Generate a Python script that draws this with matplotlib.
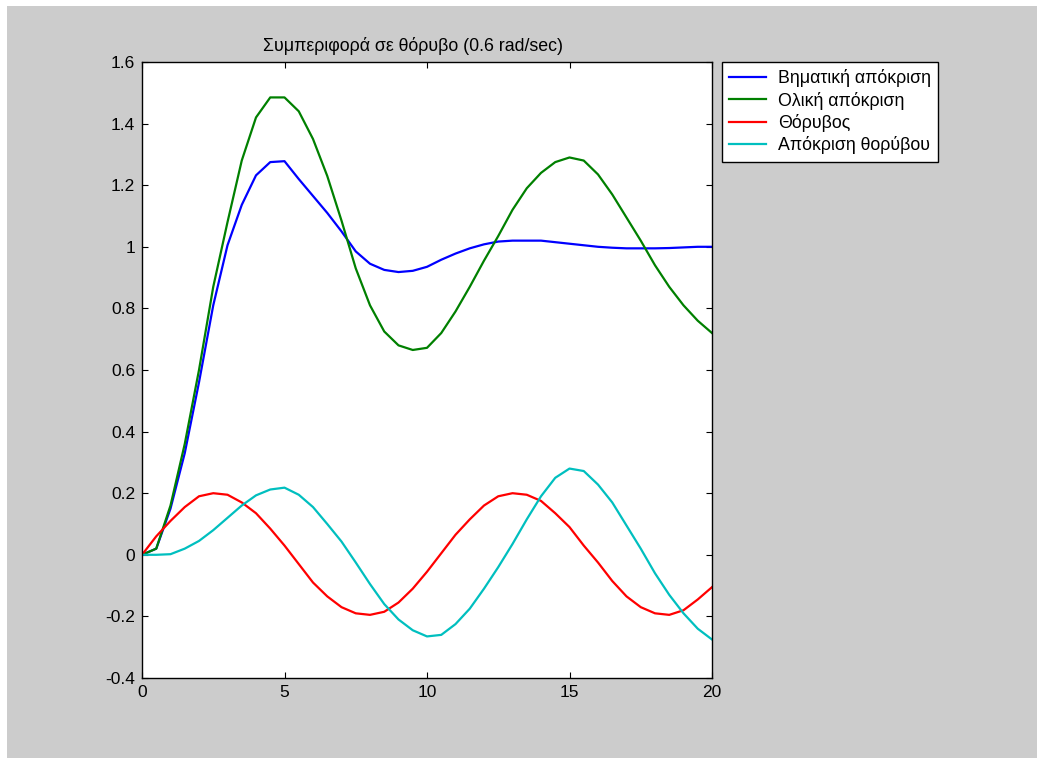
import numpy as np
import matplotlib
matplotlib.use("Agg")
import matplotlib.pyplot as plt
from matplotlib.patches import Rectangle

plt.rcParams['font.family'] = ['Liberation Sans', 'DejaVu Sans']

# time axis (sec)
t = np.arange(0, 20.5, 0.5)

# step response
step_resp = [0.0, 0.02, 0.15, 0.33, 0.56, 0.81, 1.005, 1.136, 1.232, 1.275,
             1.278, 1.22, 1.165, 1.11, 1.05, 0.985, 0.945, 0.925, 0.918, 0.922,
             0.935, 0.958, 0.978, 0.995, 1.008, 1.017, 1.02, 1.02, 1.02, 1.015,
             1.01, 1.005, 1.0, 0.997, 0.995, 0.995, 0.995, 0.996, 0.998, 1.0, 1.0]

# total response
total_resp = [0.0, 0.02, 0.16, 0.36, 0.60, 0.87, 1.08, 1.28, 1.42, 1.485,
              1.485, 1.44, 1.35, 1.23, 1.085, 0.93, 0.81, 0.725, 0.68, 0.665,
              0.672, 0.72, 0.79, 0.87, 0.955, 1.035, 1.12, 1.19, 1.24, 1.275,
              1.29, 1.28, 1.235, 1.17, 1.095, 1.02, 0.94, 0.87, 0.81, 0.76, 0.72]

# noise input
noise = [0.0, 0.06, 0.11, 0.155, 0.19, 0.2, 0.195, 0.17, 0.135, 0.085,
         0.03, -0.03, -0.09, -0.135, -0.17, -0.19, -0.195, -0.185, -0.155, -0.11,
         -0.055, 0.005, 0.065, 0.115, 0.16, 0.19, 0.2, 0.195, 0.175, 0.135,
         0.09, 0.03, -0.025, -0.085, -0.135, -0.17, -0.19, -0.195, -0.18, -0.145, -0.105]

# response to noise
noise_resp = [0.0, 0.0, 0.002, 0.02, 0.045, 0.08, 0.12, 0.16, 0.193, 0.212,
              0.218, 0.195, 0.155, 0.1, 0.043, -0.025, -0.095, -0.16, -0.21, -0.245,
              -0.265, -0.26, -0.225, -0.175, -0.11, -0.04, 0.035, 0.115, 0.19, 0.25,
              0.28, 0.272, 0.228, 0.17, 0.095, 0.02, -0.06, -0.13, -0.19, -0.24, -0.275]

labels = ['Βηματική απόκριση', 'Ολική απόκριση', 'Θόρυβος', 'Απόκριση θορύβου']
colors = ['#0000ff', '#008000', '#ff0000', '#00bfbf']

fig = plt.figure(figsize=(10.37, 7.58), dpi=100)
fig.patch.set_facecolor('white')
fig.patches.append(Rectangle((7/1037, 0), 1 - 7/1037, 752/758,
                             transform=fig.transFigure, facecolor='#cccccc',
                             edgecolor='none', zorder=-1))

ax = fig.add_axes([142/1037, 80/758, 570/1037, 616/758])
for y, lab, c in zip([step_resp, total_resp, noise, noise_resp], labels, colors):
    ax.plot(t, y, color=c, lw=1.6, label=lab)

ax.set_xlim(0, 20)
ax.set_ylim(-0.4, 1.6)
ax.set_xticks([0, 5, 10, 15, 20])
ax.set_xticklabels(['0', '5', '10', '15', '20'])
yt = np.arange(-0.4, 1.61, 0.2)
ax.set_yticks(yt)
ax.set_yticklabels(['-0.4', '-0.2', '0', '0.2', '0.4', '0.6', '0.8', '1', '1.2', '1.4', '1.6'])
ax.tick_params(direction='in', length=4, width=0.8, top=True, right=True,
               labelsize=12.5, colors='black', pad=5)
for s in ax.spines.values():
    s.set_linewidth(1.0)

ax.set_title('Συμπεριφορά σε θόρυβο (0.6 rad/sec)', fontsize=12.8, pad=8, x=0.475)

leg = ax.legend(loc='upper left', bbox_to_anchor=(1.0175, 1.0), borderaxespad=0,
                fontsize=12.8, fancybox=False, framealpha=1, edgecolor='black',
                handlelength=2.1, handletextpad=0.65, labelspacing=0.25,
                borderpad=0.4)
leg.get_frame().set_linewidth(1.0)

fig.savefig('out.png', dpi=100)
